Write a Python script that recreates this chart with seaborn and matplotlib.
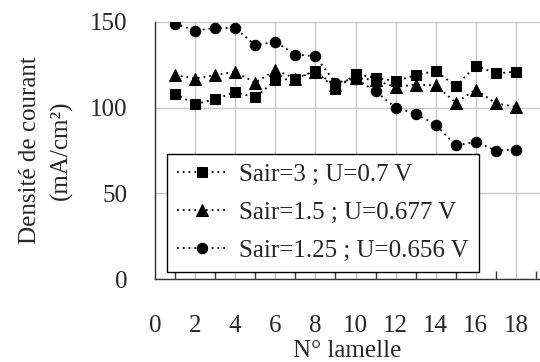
import matplotlib
matplotlib.use("Agg")
import matplotlib.pyplot as plt
import seaborn as sns
import numpy as np
import pandas as pd
from matplotlib.ticker import MultipleLocator

lamelle = list(range(1, 19))
sair3 = [108, 102, 105, 109, 106, 116, 117, 121.5, 111, 119.5, 117.5, 115.5, 119, 121.5, 112.5, 124.5, 120, 121]
sair15 = [119, 117, 119, 121, 114.5, 122, 117, 121, 113, 117.5, 116, 112, 113.5, 113, 103, 110.5, 102.5, 100.5]
sair125 = [149, 145, 146.5, 146.5, 136.5, 138.5, 131, 130, 114.5, 117, 109.5, 100, 96.5, 90, 78, 80, 75, 75.5]
labels = ["Sair=3 ; U=0.7 V", "Sair=1.5 ; U=0.677 V", "Sair=1.25 ; U=0.656 V"]
markers = ["s", "^", "o"]

sns.set_style("white")
plt.rcParams['font.family'] = ['Liberation Serif', 'DejaVu Serif']

fig = plt.figure(figsize=(5.4, 3.62), dpi=100)
ax = fig.add_axes([155/540, (362-279)/362, 385/540, 257/362])

for vals, lab, mk in zip([sair3, sair15, sair125], labels, markers):
    df = pd.DataFrame({"x": lamelle, "y": vals})
    sns.lineplot(data=df, x="x", y="y", ax=ax, color="black", marker=mk,
                 markersize=7.5 if mk != "^" else 8.5, markeredgecolor="black",
                 linestyle=(0, (1, 2.2)), linewidth=1.3, label=lab)

ax.set_xlim(0, 19.2)
ax.set_ylim(0, 150)
ax.xaxis.set_major_locator(MultipleLocator(2))
ax.xaxis.set_minor_locator(MultipleLocator(1))
ax.yaxis.set_major_locator(MultipleLocator(50))
ax.grid(True, which="major", color="#c8c8c8", linewidth=1)
for s in ["top", "right"]:
    ax.spines[s].set_visible(False)
for s in ["left", "bottom"]:
    ax.spines[s].set_color("#333333")
    ax.spines[s].set_linewidth(1)
ax.tick_params(axis="x", which="major", direction="out", length=9, width=1, color="#333333", labelsize=18, pad=17)
ax.tick_params(axis="x", which="minor", direction="in", length=6, width=1, color="#333333", bottom=True)
ax.tick_params(axis="y", which="major", direction="out", length=8, width=1, color="#333333", labelsize=18, pad=12)
ax.set_xlabel("N° lamelle", fontsize=18, va="top")
ax.xaxis.set_label_coords(0.5, (279-340)/257)
ax.set_ylabel("")
fig.text(46/540, 1-150/362, "Densité de courant\n(mA/cm²)", rotation=90, ha="center", va="center",
         multialignment="center", fontsize=18, linespacing=1.5)

leg = ax.legend(loc="lower left", bbox_to_anchor=(0.031, 0.027), borderaxespad=0, fontsize=18,
                frameon=True, fancybox=False, edgecolor="black", handlelength=2.0,
                labelspacing=0.62, handletextpad=0.5, borderpad=0.4)
leg.get_frame().set_linewidth(1)
leg.get_frame().set_alpha(1)

fig.savefig("out.png", dpi=100)
